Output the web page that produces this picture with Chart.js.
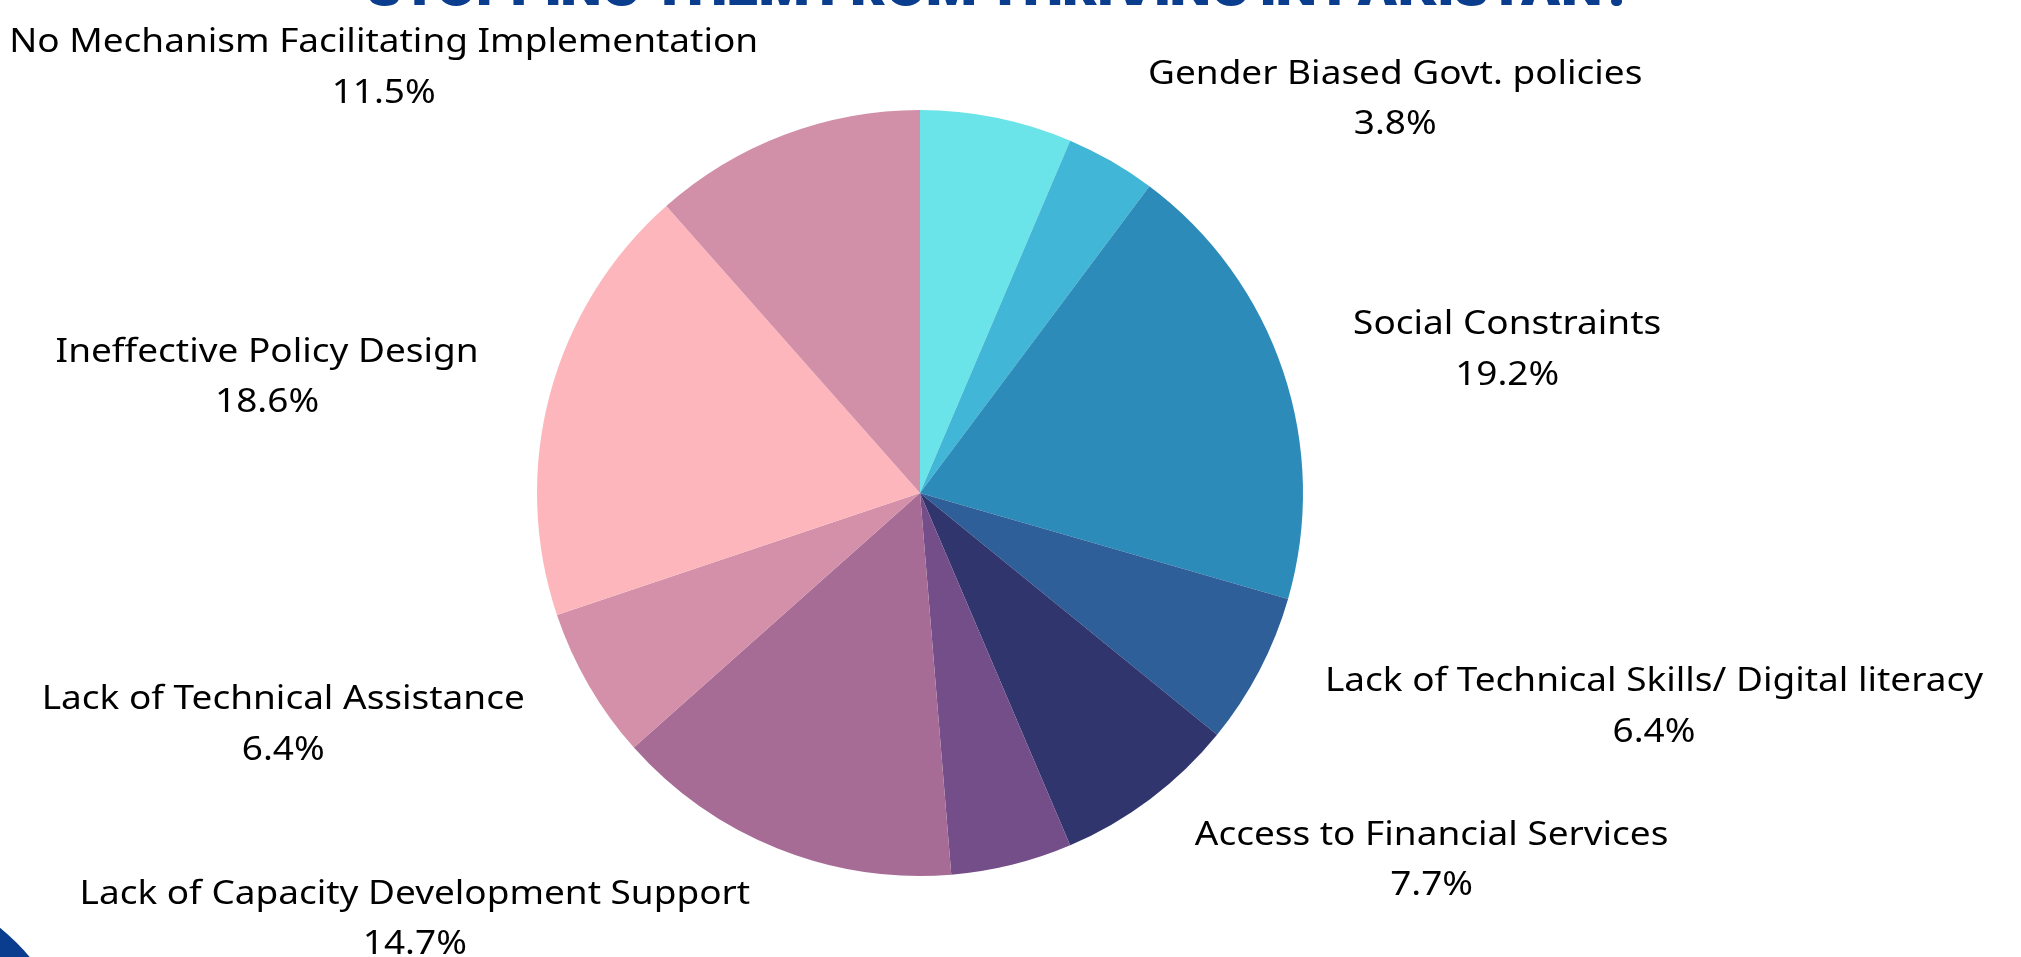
<!DOCTYPE html>
<html>
<head>
<meta charset="utf-8">
<script src="https://cdn.jsdelivr.net/npm/chart.js@4.4.1/dist/chart.umd.min.js"></script>
<style>
  html, body { margin: 0; padding: 0; background: #fff; overflow: hidden; }
  #wrap { width: 2021px; height: 957px; }
</style>
</head>
<body>
<div id="wrap"><canvas id="barriers" width="2021" height="957"></canvas></div>
<script>
const heading = "STOPPING THEM FROM THRIVING IN PAKISTAN?";

// slices, clockwise from 12 o'clock (two of them carry no caption)
const barriers = [
  "",
  "Gender Biased Govt. policies",
  "Social Constraints",
  "Lack of Technical Skills/ Digital literacy",
  "Access to Financial Services",
  "",
  "Lack of Capacity Development Support",
  "Lack of Technical Assistance",
  "Ineffective Policy Design",
  "No Mechanism Facilitating Implementation"
];
const shares = [6.4, 3.8, 19.2, 6.4, 7.7, 5.1, 14.7, 6.4, 18.6, 11.5];
const sliceColors = [
  "#6ae4e8", "#42b6d6", "#2d8bba", "#2e5f99", "#30356e",
  "#744e88", "#a66c96", "#d48fa9", "#fdb6bc", "#d28fa8"
];

const labelFont = '33px "Noto Sans"';
const stretch = 1.12;   // widen glyphs a little
const lineGap = 50.5;

function wideText(ctx, text, cx, y) {
  ctx.save();
  ctx.translate(cx, y);
  ctx.scale(stretch, 1);
  ctx.fillText(text, 0, 0);
  ctx.restore();
}

// caption for each slice: name + percentage, pushed out along the slice's mid-angle
const outsideLabels = {
  id: "outsideLabels",
  afterDatasetsDraw(chart) {
    const ctx = chart.ctx;
    const arcs = chart.getDatasetMeta(0).data;
    ctx.save();
    ctx.font = labelFont;
    ctx.fillStyle = "#000";
    ctx.textAlign = "center";
    ctx.textBaseline = "alphabetic";
    arcs.forEach((arc, i) => {
      const name = chart.data.labels[i];
      if (!name) return;
      const p = arc.getProps(["x", "y", "startAngle", "endAngle", "outerRadius"], true);
      const mid = (p.startAngle + p.endAngle) / 2;
      const dist = p.outerRadius * 1.193;
      const ax = p.x + Math.cos(mid) * dist;
      const ay = p.y + Math.sin(mid) * dist;
      const pct = chart.data.datasets[0].data[i].toFixed(1) + "%";
      const w = stretch * Math.max(ctx.measureText(name).width, ctx.measureText(pct).width);
      const left = Math.cos(mid) >= 0 ? ax : ax - w;
      wideText(ctx, name, left + w / 2, ay - lineGap / 2 + 12);
      wideText(ctx, pct, left + w / 2, ay + lineGap / 2 + 12);
    });
    ctx.restore();
  }
};

// heading running off the top edge and the corner shape
const frame = {
  id: "frame",
  beforeDraw(chart) {
    const ctx = chart.ctx;
    ctx.save();
    ctx.fillStyle = "#fff";
    ctx.fillRect(0, 0, chart.width, chart.height);
    ctx.fillStyle = "#0a3d8e";
    ctx.beginPath();
    ctx.arc(-150, 1110, 236, 0, Math.PI * 2);
    ctx.fill();
    ctx.font = '900 50px Inter';
    const tw = ctx.measureText(heading).width;
    ctx.translate(1000, 5);
    ctx.scale(1267 / tw, 1);
    ctx.textAlign = "center";
    ctx.textBaseline = "alphabetic";
    ctx.fillText(heading, 0, 0);
    ctx.restore();
  }
};

new Chart(document.getElementById("barriers"), {
  type: "pie",
  data: {
    labels: barriers,
    datasets: [{
      data: shares,
      backgroundColor: sliceColors,
      borderWidth: 0
    }]
  },
  options: {
    responsive: false,
    animation: false,
    layout: { padding: { top: 110, bottom: 81, left: 537, right: 718 } },
    plugins: {
      legend: { display: false },
      tooltip: { enabled: false },
      title: { display: false }
    }
  },
  plugins: [frame, outsideLabels]
});
</script>
</body>
</html>
